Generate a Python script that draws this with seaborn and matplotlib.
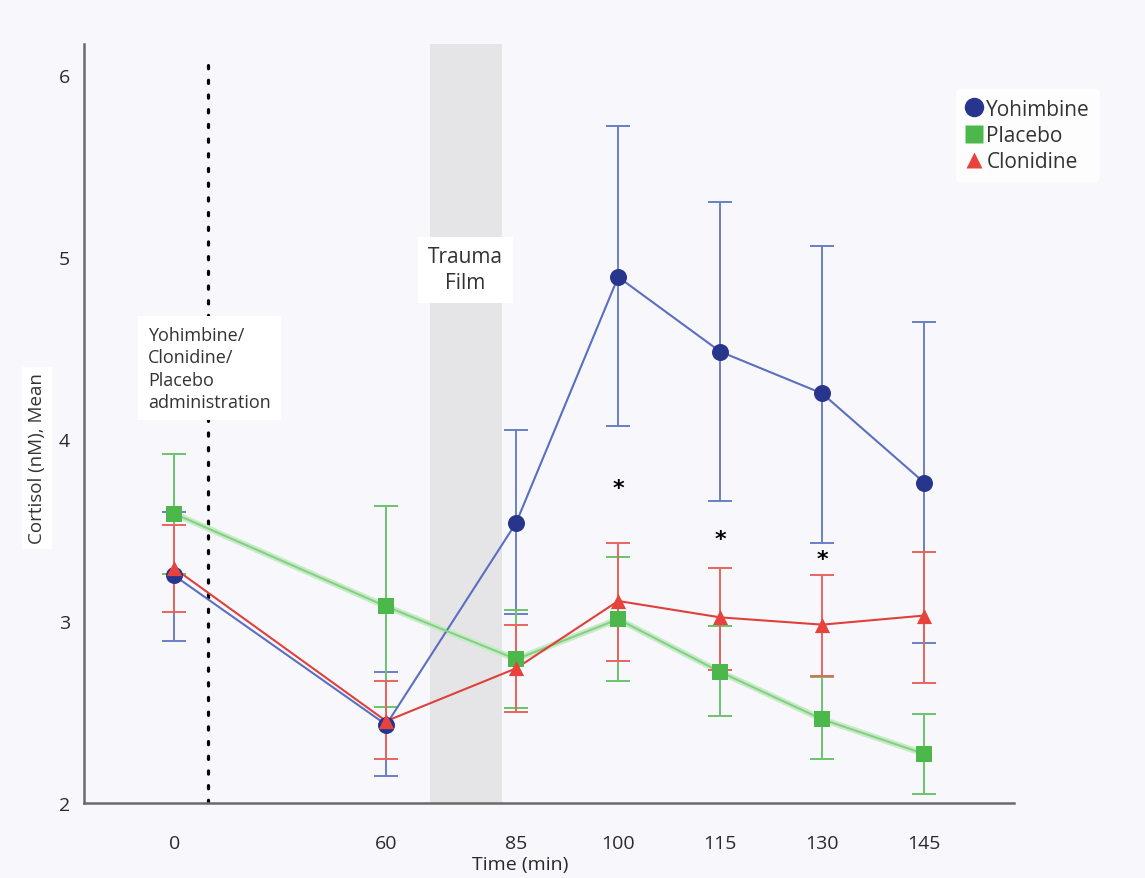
import numpy as np
import pandas as pd
import matplotlib
matplotlib.use("Agg")
import matplotlib.pyplot as plt
from matplotlib.lines import Line2D
import seaborn as sns

# ---------------- data ----------------
times = [0, 60, 85, 100, 115, 130, 145]
groups = ["Yohimbine", "Placebo", "Clonidine"]

yohimbine_mean = [3.25, 2.43, 3.54, 4.89, 4.48, 4.25, 3.76]
yohimbine_low = [2.89, 2.15, 3.04, 4.07, 3.66, 3.43, 2.88]
yohimbine_high = [3.60, 2.72, 4.05, 5.72, 5.30, 5.06, 4.64]

placebo_mean = [3.59, 3.08, 2.79, 3.01, 2.72, 2.46, 2.27]
placebo_low = [3.26, 2.53, 2.52, 2.67, 2.48, 2.24, 2.05]
placebo_high = [3.92, 3.63, 3.06, 3.35, 2.97, 2.69, 2.49]

clonidine_mean = [3.29, 2.45, 2.74, 3.11, 3.02, 2.98, 3.03]
clonidine_low = [3.05, 2.24, 2.50, 2.78, 2.73, 2.70, 2.66]
clonidine_high = [3.53, 2.67, 2.98, 3.43, 3.29, 3.25, 3.38]

star_times = [100, 115, 130]
star_values = [3.73, 3.45, 3.34]

trauma_film = (68.5, 82.3)
drug_admin_time = 9.6

# ---------------- styling ----------------
# non-uniform horizontal layout of the time axis (display units per time stop)
axis_stops_time = np.array([0, 60, 85, 100, 115, 130, 145], dtype=float)
axis_stops_disp = np.array([0, 212, 342, 444, 546, 648, 750], dtype=float)


def _fwd(x):
    x = np.asarray(x, dtype=float)
    y = np.interp(x, axis_stops_time, axis_stops_disp)
    s0 = (axis_stops_disp[1] - axis_stops_disp[0]) / (axis_stops_time[1] - axis_stops_time[0])
    s1 = (axis_stops_disp[-1] - axis_stops_disp[-2]) / (axis_stops_time[-1] - axis_stops_time[-2])
    y = np.where(x < axis_stops_time[0], axis_stops_disp[0] + (x - axis_stops_time[0]) * s0, y)
    y = np.where(x > axis_stops_time[-1], axis_stops_disp[-1] + (x - axis_stops_time[-1]) * s1, y)
    return y


def _inv(y):
    y = np.asarray(y, dtype=float)
    x = np.interp(y, axis_stops_disp, axis_stops_time)
    s0 = (axis_stops_time[1] - axis_stops_time[0]) / (axis_stops_disp[1] - axis_stops_disp[0])
    s1 = (axis_stops_time[-1] - axis_stops_time[-2]) / (axis_stops_disp[-1] - axis_stops_disp[-2])
    x = np.where(y < axis_stops_disp[0], axis_stops_time[0] + (y - axis_stops_disp[0]) * s0, x)
    x = np.where(y > axis_stops_disp[-1], axis_stops_time[-1] + (y - axis_stops_disp[-1]) * s1, x)
    return x


line_colors = {"Yohimbine": "#5b6fc0", "Placebo": "#86d086", "Clonidine": "#e0403a"}
marker_colors = {"Yohimbine": "#28358c", "Placebo": "#4cb84c", "Clonidine": "#e8423c"}
err_colors = {"Yohimbine": "#6b80c6", "Placebo": "#6cc46c", "Clonidine": "#e8645e"}
markers = {"Yohimbine": "o", "Placebo": "s", "Clonidine": "^"}
msizes = {"Yohimbine": 150, "Placebo": 125, "Clonidine": 120}

bg = "#f8f8fc"
sns.set_theme(style="white")
plt.rcParams["font.family"] = ["Open Sans", "DejaVu Sans"]

rows = []
series = {
    "Yohimbine": (yohimbine_mean, yohimbine_low, yohimbine_high),
    "Placebo": (placebo_mean, placebo_low, placebo_high),
    "Clonidine": (clonidine_mean, clonidine_low, clonidine_high),
}
for g in groups:
    m, lo, hi = series[g]
    for t, a, b, c in zip(times, m, lo, hi):
        rows.append({"group": g, "time": t, "mean": a, "low": b, "high": c})
df = pd.DataFrame(rows)

fig = plt.figure(figsize=(11.45, 8.79), dpi=100, facecolor=bg)
ax = fig.add_axes([0.0734, 0.0853, 0.8122, 0.8635])
ax.set_facecolor(bg)
ax.set_xscale("function", functions=(_fwd, _inv))
ax.set_xlim(-25.5, 158.2)
ax.set_ylim(2, 6.17)

# trauma film band and administration line
ax.axvspan(trauma_film[0], trauma_film[1], color="#e5e5e7", zorder=0, lw=0)
ax.axvline(drug_admin_time, ymin=0, ymax=0.98, color="black", lw=2.3,
           linestyle=(0, (1, 3.6)), dash_capstyle="round", zorder=1)

# halo under placebo line
sub_p = df[df.group == "Placebo"]
sns.lineplot(data=sub_p, x="time", y="mean", color="#c8ebc8", lw=4.5,
             ax=ax, legend=False, zorder=2, estimator=None)

draw_order = ["Yohimbine", "Placebo", "Clonidine"]
for i, g in enumerate(draw_order):
    sub = df[df.group == g]
    ax.errorbar(sub["time"], sub["mean"],
                yerr=[sub["mean"] - sub["low"], sub["high"] - sub["mean"]],
                fmt="none", ecolor=err_colors[g], elinewidth=1.4,
                capsize=8.5, capthick=1.4, zorder=3 + i)
for i, g in enumerate(draw_order):
    sub = df[df.group == g]
    sns.lineplot(data=sub, x="time", y="mean", color=line_colors[g], lw=1.5,
                 ax=ax, legend=False, zorder=6 + i, estimator=None)
for i, g in enumerate(draw_order):
    sub = df[df.group == g]
    sns.scatterplot(data=sub, x="time", y="mean", color=marker_colors[g],
                    marker=markers[g], s=msizes[g], linewidth=0, ax=ax,
                    legend=False, zorder=9 + i)

# significance stars
for t, v in zip(star_times, star_values):
    ax.text(t, v, "*", ha="center", va="center", fontsize=16, color="black",
            fontweight="bold", family=["DejaVu Sans"], zorder=12)

# annotations
ax.text(-7.4, 4.62, "Yohimbine/\nClonidine/\nPlacebo\nadministration",
        ha="left", va="top", fontsize=13, color="#333333", linespacing=1.3,
        bbox=dict(facecolor="white", edgecolor="none", pad=7), zorder=12)
ax.text(75.2, 4.93, "Trauma\nFilm", ha="center", va="center", fontsize=15,
        color="#333333", linespacing=1.3,
        bbox=dict(facecolor="white", edgecolor="none", pad=7), zorder=12)

# axes styling
for s in ["top", "right"]:
    ax.spines[s].set_visible(False)
for s in ["left", "bottom"]:
    ax.spines[s].set_color("#6a6a6a")
    ax.spines[s].set_linewidth(1.8)
ax.set_xticks(times)
ax.set_xticklabels([str(t) for t in times])
ax.set_yticks([2, 3, 4, 5, 6])
ax.tick_params(axis="x", direction="out", length=8, width=1.6, color="#555555",
               pad=14, labelsize=14, labelcolor="#2a2a2a")
ax.tick_params(axis="y", direction="out", length=7, width=1.6, color="#555555",
               pad=3, labelsize=14, labelcolor="#2a2a2a")

ax.set_xlabel("Time (min)", fontsize=14, color="#2a2a2a")
ax.xaxis.set_label_coords(0.469, -0.069)
ax.set_ylabel("Cortisol (nM), Mean", fontsize=13.5, color="#333333",
              bbox=dict(facecolor="white", edgecolor="none", pad=4))
ax.yaxis.set_label_coords(-0.041, 0.455)

# legend
handles = [Line2D([], [], linestyle="none", marker=markers[g],
                  markerfacecolor=marker_colors[g], markeredgecolor="none",
                  markersize={"Yohimbine": 14, "Placebo": 13, "Clonidine": 12}[g],
                  label=g) for g in groups]
leg = fig.legend(handles=handles, loc="upper left", bbox_to_anchor=(0.826, 0.909),
                 frameon=True, fontsize=15, handlelength=0.8, handletextpad=0.2,
                 labelspacing=0.25, borderpad=0.45)
leg.get_frame().set_facecolor("white")
leg.get_frame().set_edgecolor("none")
for t in leg.get_texts():
    t.set_color("#333333")

fig.savefig("out.png", dpi=100, facecolor=bg)
